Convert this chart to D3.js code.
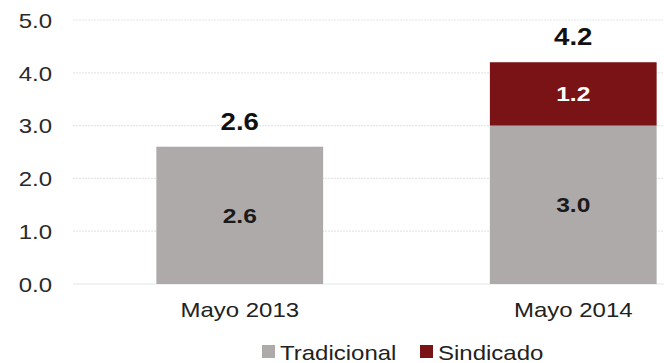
<!DOCTYPE html>
<html>
<head>
<meta charset="utf-8">
<script src="https://cdn.jsdelivr.net/npm/d3@7"></script>
<style>
  body { margin: 0; background: #fff; }
  text { font-family: "Liberation Sans", Arial, sans-serif; }
</style>
</head>
<body>
<script>
// chart data
var categories = ["Mayo 2013", "Mayo 2014"];
var tradicional = [2.6, 3.0];
var sindicado = [0, 1.2];
var totals = [2.6, 4.2];
var seriesNames = ["Tradicional", "Sindicado"];
var yTicks = [0, 1, 2, 3, 4, 5];

var w = 664, h = 363;
var stretch = 1.2; // text in the original is a bit wide
var colors = { Tradicional: "#aeaaaa", Sindicado: "#7a1315" };
var fmt = d3.format(".1f");

var svg = d3.select("body").append("svg")
    .attr("width", w)
    .attr("height", h);

// helper: stretched text at x,y
function addText(parent, tx, ty, str){
    return parent.append("text")
        .attr("transform", "translate(" + tx + "," + ty + ") scale(" + stretch + ",1)")
        .text(str);
}

// scales
var x = d3.scaleBand()
    .domain(categories)
    .range([73, 740])
    .paddingInner(0.5)
    .paddingOuter(0.25);

var y = d3.scaleLinear()
    .domain([0, 5])
    .range([284, 20]);

// gridlines
svg.selectAll(".grid")
    .data(yTicks)
    .enter()
    .append("line")
    .attr("class", "grid")
    .attr("x1", 73)
    .attr("x2", w)
    .attr("y1", function(d){ return y(d); })
    .attr("y2", function(d){ return y(d); })
    .style("stroke", "#e3e7e7")
    .style("stroke-width", 1.2)
    .style("stroke-dasharray", function(d){ return d === 0 ? null : "2,1"; });

// y axis labels
var yAxis = d3.axisLeft(y)
    .tickValues(yTicks)
    .tickFormat(fmt)
    .tickSize(0)
    .tickPadding(0);

var yg = svg.append("g")
    .attr("transform", "translate(52,0)")
    .call(yAxis);
yg.select(".domain").remove();
yg.selectAll("text")
    .attr("transform", "scale(" + stretch + ",1)")
    .attr("dy", "0.36em")
    .style("font-family", "'Liberation Sans', Arial, sans-serif")
    .style("font-size", "20px")
    .style("fill", "#2a2a2a");

// stack the data
var rows = categories.map(function(c, i){
    return { cat: c, Tradicional: tradicional[i], Sindicado: sindicado[i] };
});
var stack = d3.stack().keys(seriesNames)(rows);

var layers = svg.selectAll(".layer")
    .data(stack)
    .enter()
    .append("g")
    .attr("class", "layer")
    .style("fill", function(d){ return colors[d.key]; });

layers.selectAll("rect")
    .data(function(d){ return d.filter(function(p){ return p[1] - p[0] > 0; }); })
    .enter()
    .append("rect")
    .attr("x", function(d){ return x(d.data.cat); })
    .attr("width", x.bandwidth())
    .attr("y", function(d){ return y(d[1]); })
    .attr("height", function(d){ return y(d[0]) - y(d[1]); });

// labels inside segments
stack.forEach(function(layer){
    layer.forEach(function(p){
        var v = p[1] - p[0];
        if (v <= 0) return;
        addText(svg, x(p.data.cat) + x.bandwidth() / 2, y((p[0] + p[1]) / 2) + 7.5, fmt(v))
            .attr("text-anchor", "middle")
            .style("font-size", "20.5px")
            .style("font-weight", "bold")
            .style("fill", layer.key === "Sindicado" ? "#fff" : "#1a1a1a");
    });
});

// total labels
totals.forEach(function(d, i){
    addText(svg, x(categories[i]) + x.bandwidth() / 2, y(d) - 17, fmt(d))
        .attr("text-anchor", "middle")
        .style("font-size", "23px")
        .style("font-weight", "bold")
        .style("fill", "#111");
});

// category labels
categories.forEach(function(c){
    addText(svg, x(c) + x.bandwidth() / 2, 317, c)
        .attr("text-anchor", "middle")
        .style("font-size", "20px")
        .style("fill", "#222");
});

// legend
var legendX = [262, 420];
var legend = svg.selectAll(".legend")
    .data(seriesNames)
    .enter()
    .append("g")
    .attr("class", "legend")
    .attr("transform", function(d, i){ return "translate(" + legendX[i] + ",345)"; });

legend.append("rect")
    .attr("width", 13)
    .attr("height", 13)
    .style("fill", function(d){ return colors[d]; });

legend.each(function(d){
    addText(d3.select(this), 18, 14.5, d)
        .style("font-size", "20px")
        .style("fill", "#222");
});
</script>
</body>
</html>
